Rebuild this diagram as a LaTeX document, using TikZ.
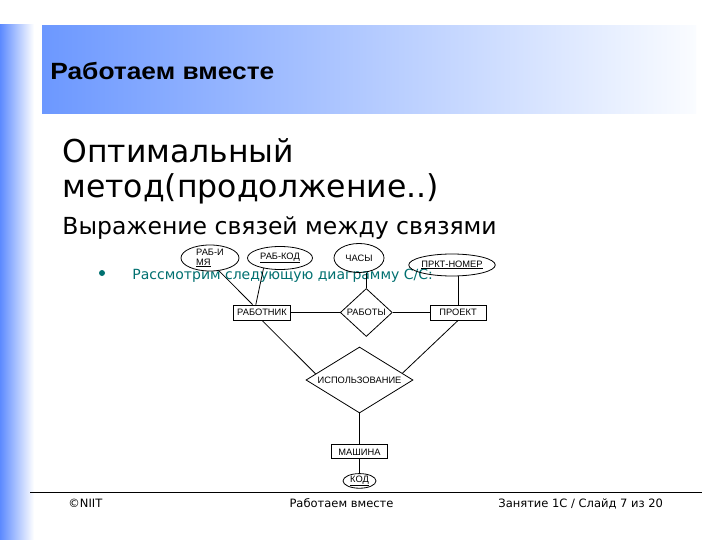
\documentclass[tikz,border=0pt]{standalone}
\usepackage{fontspec}
\setmainfont{DejaVu Sans}
\newfontfamily\titlefont[FakeStretch=1.12]{Liberation Sans}
\newfontfamily\erfont{Liberation Sans}
\usepackage{tikz}
\usepackage{xcolor}
\usetikzlibrary{positioning, shapes.geometric, calc}

\definecolor{barblue}{RGB}{92,138,255}
\definecolor{bandblue}{RGB}{108,152,255}
\definecolor{bandend}{RGB}{250,252,255}
\definecolor{noteteal}{RGB}{0,112,112}

\begin{document}
\begin{tikzpicture}[
    x=1pt, y=-1pt,
    line width=0.8pt,
    node distance=30pt and 40pt,
    txt/.style={anchor=base west, inner sep=0pt},
    erbox/.style={
        draw=black,
        line width=0.8pt,
        inner sep=0pt,
        align=center,
        font=\erfont\fontsize{9.3}{10}\selectfont
    },
    entity/.style={erbox, rectangle, minimum width=57pt, minimum height=15pt},
    attrib/.style={erbox, ellipse},
    relation/.style={erbox, diamond},
    link/.style={draw=black, line width=0.8pt}
]

% page and frame
\fill[white] (0,0) rectangle (720,540);
\useasboundingbox (0,0) rectangle (720,540);
\shade[left color=barblue, right color=white] (0,25) rectangle (34,540);
\shade[left color=bandblue, right color=bandend] (42,26) rectangle (696,114);

\node[txt] (title) at (50,80) {\titlefont\bfseries\fontsize{23.5}{28}\selectfont Работаем вместе};

\node[txt] (head1) at (62,162.5) {\fontsize{31.5}{36}\selectfont Оптимальный};
\node[txt] (head2) at (62,197) {\fontsize{31.5}{36}\selectfont метод(продолжение..)};
\node[txt] (sub) at (62,234) {\fontsize{23.5}{28}\selectfont Выражение связей между связями};

\node[circle, fill=noteteal, inner sep=0pt, minimum size=6pt] (dot) at (102,273) {};
\node[txt, text=noteteal] (note) at (132,279) {\fontsize{14}{17}\selectfont Рассмотрим следующую диаграмму С/С:};

% ER diagram
\node[attrib, align=left, minimum width=58pt, minimum height=22pt] (rabimya) at (210,258) {РАБ-И\\\underline{МЯ}};
\node[attrib, minimum width=65pt, minimum height=23pt] (rabkod) at (280,258) {\underline{РАБ-КОД}};
\node[attrib, minimum width=50pt, minimum height=29pt] (chasy) at (359,258) {ЧАСЫ};
\node[attrib, minimum width=72pt, minimum height=22pt] (prkt) at (452,265) {\underline{ПРКТ-НОМЕР}};

\node[entity] (rabotnik) at (262,312.5) {РАБОТНИК};
\node[relation, minimum width=52pt, minimum height=48pt, right=49pt of rabotnik] (raboty) {РАБОТЫ};
\node[entity, minimum width=56pt, right=37pt of raboty] (proekt) {ПРОЕКТ};

\node[relation, aspect=1.62, minimum width=107pt, minimum height=66pt] (isp) at (359.5,380) {ИСПОЛЬЗОВАНИЕ};
\node[entity, minimum width=56pt, minimum height=14pt, below=31pt of isp] (mashina) {МАШИНА};
\node[attrib, minimum width=33pt, minimum height=13pt, below=14pt of mashina] (kod) {\underline{КОД}};

\draw[link] (rabimya.305) -- (rabotnik.140);
\draw[link] (rabkod.212) -- (rabotnik.128);
\draw[link] (raboty.north) -- (raboty.north |- chasy.south);
\draw[link] (proekt.north) -- (proekt.north |- prkt.south);
\draw[link] (rabotnik) -- (raboty);
\draw[link] (raboty) -- (proekt);
\draw[link] (rabotnik.south) -- (isp.172);
\draw[link] (proekt.south) -- (isp.9);
\draw[link] (isp) -- (mashina);
\draw[link] (mashina) -- (kod);

% footer
\coordinate (footl) at (30,492);
\coordinate (footr) at (702,492);
\draw[line width=1pt] (footl) -- (footr);
\node[txt] (copy) at (68,507) {\fontsize{11.5}{14}\selectfont ©NIIT};
\node[anchor=base, inner sep=0pt] (foottitle) at (341.5,507) {\fontsize{11.5}{14}\selectfont Работаем вместе};
\node[txt] (slide) at (498,507) {\fontsize{11.5}{14}\selectfont Занятие 1С / Слайд 7 из 20};

\end{tikzpicture}
\end{document}
